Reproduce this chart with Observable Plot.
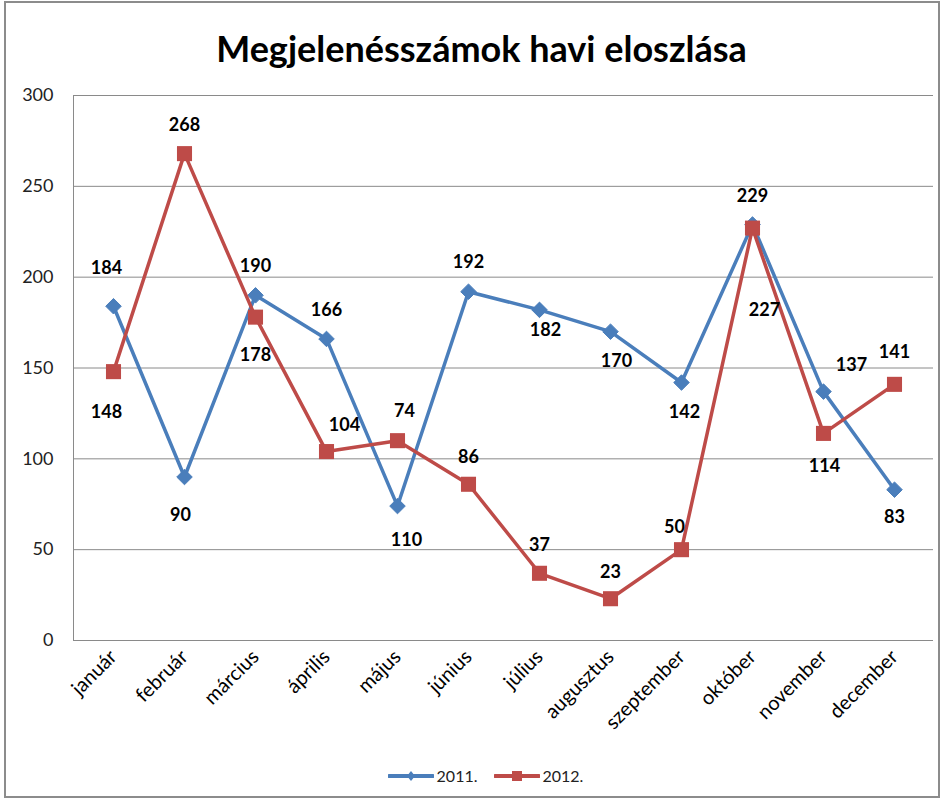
<!DOCTYPE html>
<html>
<head>
<meta charset="utf-8">
<script src="https://cdn.jsdelivr.net/npm/d3@7"></script>
<script src="https://cdn.jsdelivr.net/npm/@observablehq/plot@0.6"></script>
<style>
  html, body { margin: 0; padding: 0; background: #fff; }
  #wrap { position: relative; width: 943px; height: 801px; overflow: hidden; font-family: Lato, "Open Sans", sans-serif; }
  #border { position: absolute; left: 4px; top: 1px; width: 936px; height: 797px; box-sizing: border-box; border: 2px solid #8c8c8c; }
  #title { position: absolute; left: 10px; top: 24px; width: 943px; text-align: center; font-weight: bold; font-size: 36px; line-height: 48px; color: #000; }
  #chart { position: absolute; left: 0; top: 80px; }
  #legend { position: absolute; left: 14px; top: 766px; width: 943px; display: flex; justify-content: center; align-items: center; font-size: 16px; color: #222; }
  #legend .item { display: flex; align-items: center; margin: 0 8px; }
  #legend svg { margin-right: 3px; }
</style>
</head>
<body>
<div id="wrap">
  <div id="title">Megjelenésszámok havi eloszlása</div>
  <div id="chart"></div>
  <div id="legend"></div>
  <div id="border"></div>
</div>
<script>
const months = ["január", "február", "március", "április", "május", "június", "július", "augusztus", "szeptember", "október", "november", "december"];
const series = ["2011.", "2012."];
const v2011 = [184, 90, 190, 166, 74, 192, 182, 170, 142, 229, 137, 83];
const v2012 = [148, 268, 178, 104, 110, 86, 37, 23, 50, 227, 114, 141];
const yTicks = [0, 50, 100, 150, 200, 250, 300];

// label offsets (pixels) relative to each point, as placed in the original
const dx2011 = [-7, -4, 0, 0, 7, 0, 6, 6, 3, 0, 28, 0];
const dy2011 = [-38, 38, -29, -29, -95, -29, 20, 30, 30, -28, -26, 28];
const dx2012 = [-7, 0, 0, 18, 9, 0, 0, 0, -7, 12, 1, 0];
const dy2012 = [41, -28, 38, -26, 100, -27, -28, -26, -22, 82, 33, -32];

const blue = "#4A7EBB";
const red = "#BE4B48";

const rows = months.map((m, i) => ({month: m, a: v2011[i], b: v2012[i]}));

const labelFont = {fontSize: 18, fontWeight: "bold", fill: "#000"};
const labels2011 = rows.map((d, i) => Plot.text([d], {x: "month", y: "a", text: d => String(d.a), dx: dx2011[i], dy: dy2011[i], ...labelFont}));
const labels2012 = rows.map((d, i) => Plot.text([d], {x: "month", y: "b", text: d => String(d.b), dx: dx2012[i], dy: dy2012[i], ...labelFont}));

const plot = Plot.plot({
  width: 943,
  height: 680,
  marginTop: 15,
  marginBottom: 120,
  marginLeft: 73,
  marginRight: 10,
  style: {fontFamily: "Lato, 'Open Sans', sans-serif", color: "#222", background: "transparent"},
  x: {type: "point", domain: months, padding: 0.5},
  y: {domain: [0, 300]},
  marks: [
    Plot.gridY(yTicks, {stroke: "#8a8a8a", strokeOpacity: 1, strokeWidth: 1}),
    Plot.frame({anchor: "left", stroke: "#8a8a8a", strokeWidth: 1}),
    Plot.axisY({ticks: yTicks, tickSize: 0, tickPadding: 20, fontSize: 18, label: null}),
    Plot.axisX({tickRotate: -45, tickSize: 0, tickPadding: 13, fontSize: 20, label: null, fill: "#000"}),
    Plot.lineY(rows, {x: "month", y: "a", stroke: blue, strokeWidth: 3.5}),
    Plot.dot(rows, {x: "month", y: "a", symbol: "diamond2", r: 7, fill: blue, stroke: blue, strokeWidth: 1}),
    Plot.lineY(rows, {x: "month", y: "b", stroke: red, strokeWidth: 3.5}),
    Plot.dot(rows, {x: "month", y: "b", symbol: "square", r: 8.5, fill: red}),
    ...labels2011,
    ...labels2012
  ]
});
document.getElementById("chart").appendChild(plot);

// legend
const legend = document.getElementById("legend");
const colors = [blue, red];
const symbols = ["diamond", "square"];
series.forEach((s, i) => {
  const item = document.createElement("div");
  item.className = "item";
  const sw = d3.create("svg").attr("width", 46).attr("height", 16);
  sw.append("line").attr("x1", 1).attr("x2", 45).attr("y1", 8).attr("y2", 8).attr("stroke", colors[i]).attr("stroke-width", 4).attr("stroke-linecap", "round");
  if (symbols[i] === "diamond") {
    sw.append("path").attr("d", "M23,3 L27,8 L23,13 L19,8 Z").attr("fill", colors[i]);
  } else {
    sw.append("rect").attr("x", 18).attr("y", 3).attr("width", 10).attr("height", 10).attr("fill", colors[i]);
  }
  item.appendChild(sw.node());
  const t = document.createElement("span");
  t.textContent = s;
  item.appendChild(t);
  legend.appendChild(item);
});
</script>
</body>
</html>
